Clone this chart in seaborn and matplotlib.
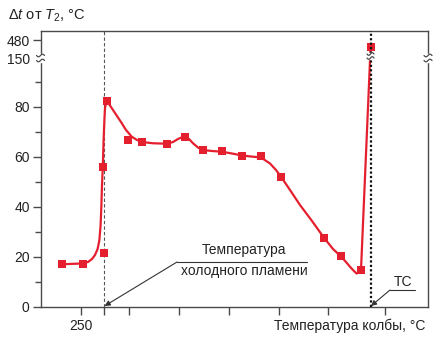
import numpy as np
import matplotlib
matplotlib.use("Agg")
import matplotlib.pyplot as plt
import seaborn as sns
import pandas as pd

# ---------------- data ----------------
pt_T = [240.5, 251.0, 261.7, 261.2, 262.9, 273.5, 280.4, 293.2, 301.9, 310.9,
        320.4, 330.7, 340.0, 350.0, 371.5, 379.9, 390.0, 394.8]
pt_dt = [17.1, 17.3, 21.7, 55.9, 82.4, 66.8, 66.0, 65.3, 68.1, 62.8,
         62.3, 60.4, 60.5, 52.1, 27.7, 20.3, 14.8, 350.0]

curve_T = [240.4, 250.5, 253.5, 255.5, 257.0, 258.3, 259.2, 259.8, 260.2, 260.5,
           260.9, 261.3, 261.7, 262.0, 262.7, 263.5, 264.5, 266.0, 268.0, 270.4,
           272.5, 275.4, 278.0, 280.5, 286.0, 293.0, 296.0, 298.5, 301.9, 304.0,
           306.0, 308.5, 310.9, 315.5, 320.4, 325.5, 330.5, 335.0, 340.0, 344.5,
           347.5, 350.0, 354.5, 359.5, 365.5, 371.5, 376.0, 379.9, 382.5, 384.5,
           386.0, 387.8, 389.0, 390.0, 394.8]
curve_dt = [17.1, 17.4, 18.0, 19.2, 20.8, 23.2, 26.8, 32.8, 40.8, 48.8,
            56.0, 66.8, 74.8, 79.6, 82.2, 81.8, 80.6, 78.8, 76.4, 73.5,
            70.8, 68.1, 66.8, 66.0, 65.5, 65.3, 66.0, 67.2, 68.4, 67.2,
            65.5, 63.8, 62.8, 62.4, 62.1, 61.4, 60.6, 60.2, 59.8, 57.4,
            54.8, 52.1, 46.8, 40.8, 34.4, 27.7, 23.2, 20.3, 18.0, 16.1,
            14.8, 13.4, 13.8, 14.8, 350.0]

cold_flame_T = 261.7      # dashed line
tc_T = 394.9              # dotted line

x_ticks = [250, 261.7, 274, 299, 324, 349, 373.5, 402]
x_ticklabels = ["250", "", "", "", "", "", "", ""]
y_ticks = [0, 20, 40, 60, 80, 150, 480]
y_ticklabels = ["0", "20", "40", "60", "80", "150", "480"]
y_minor = [10, 30, 50, 70, 90]

# broken y axis mapping
BRK_IN = [-1000.0, 90.0, 150.0, 480.0, 5000.0]
BRK_OUT = [-1000.0, 90.0, 99.6, 106.8, 106.8 + 4520 * (7.2 / 330)]

def fwd(v):
    return np.interp(v, BRK_IN, BRK_OUT)

def inv(v):
    return np.interp(v, BRK_OUT, BRK_IN)

# ---------------- style ----------------
sns.set_style("ticks")
plt.rcParams["font.family"] = ["Liberation Sans", "DejaVu Sans"]
plt.rcParams["mathtext.fontset"] = "custom"
plt.rcParams["mathtext.rm"] = "Liberation Sans"
plt.rcParams["mathtext.it"] = "Liberation Sans:italic"

RED = "#E5202E"
AX = "#4a4a4a"
W, H = 440, 339
fig = plt.figure(figsize=(W / 100, H / 100), dpi=100)
ax = fig.add_axes([40.5 / W, 1 - 307 / H, (428 - 40.5) / W, (307 - 31) / H])
ax.set_yscale("function", functions=(fwd, inv))

df_c = pd.DataFrame({"T": curve_T, "dt": curve_dt})
df_p = pd.DataFrame({"T": pt_T, "dt": pt_dt})

ax.axvline(cold_flame_T, color="#555555", lw=0.8, ls=(0, (3, 2)), zorder=1)

sns.lineplot(data=df_c, x="T", y="dt", sort=False, estimator=None, color=RED,
             lw=1.6, ax=ax, zorder=3)
sns.scatterplot(data=df_p, x="T", y="dt", marker="s", s=40, color=RED,
                edgecolor=RED, linewidth=0, ax=ax, zorder=4)

ax.axvline(tc_T, color="#111111", lw=1.6, ls=(0, (1, 1)), zorder=5)

ax.set_xlim(229.75, 423.5)
ax.set_ylim(0, 645)

ax.set_xticks(x_ticks)
ax.set_xticklabels(x_ticklabels)
ax.set_yticks(y_ticks)
ax.set_yticklabels(y_ticklabels)
ax.yaxis.set_minor_locator(matplotlib.ticker.FixedLocator(y_minor))
ax.yaxis.set_minor_formatter(matplotlib.ticker.NullFormatter())
ax.xaxis.set_minor_locator(matplotlib.ticker.NullLocator())
ax.set_xlabel("")
ax.set_ylabel("")

for s in ax.spines.values():
    s.set_color(AX)
    s.set_linewidth(1.0)
    s.set_visible(True)
ax.tick_params(axis="both", which="major", length=5.8, width=1.0, color=AX,
               labelsize=10, labelcolor="#222222")
ax.tick_params(axis="x", which="major", pad=3.2)
ax.tick_params(axis="y", which="major", pad=2.0)
ax.tick_params(axis="y", which="minor", length=4.3, width=1.0, color=AX)
# no tick mark at the break value
for t in ax.yaxis.get_major_ticks():
    if abs(t.get_loc() - 150) < 1e-6:
        t.tick1line.set_visible(False)

# ---------------- break marks ----------------
def px(x, y):
    return x / W, 1 - y / H

def break_mark(xc, yc, half=4.0, gap=2.5, color=AX, lw=0.9):
    fx0, fy0 = px(xc - half, yc + gap + 1.2)
    fx1, fy1 = px(xc + half, yc - gap - 1.2)
    fig.patches.append(plt.Rectangle((fx0, fy0), fx1 - fx0, fy1 - fy0,
                                     transform=fig.transFigure, color="white",
                                     zorder=10))
    tt = np.linspace(0, 1, 25)
    for dy in (-gap, gap):
        xs = xc - half + 2 * half * tt
        ys = yc + dy + 1.3 * np.sin(2 * np.pi * tt)
        fx = xs / W
        fy = 1 - ys / H
        fig.add_artist(matplotlib.lines.Line2D(fx, fy, transform=fig.transFigure,
                                               color=color, lw=lw, zorder=11))

break_mark(40.5, 58)
break_mark(428, 58)
break_mark(370.5, 56, half=3.5, gap=2.0)

# ---------------- annotations ----------------
ann_col = "#333333"
ax.plot([298, 363], [18.0, 18.0], color=ann_col, lw=0.8, zorder=6)
ax.annotate("", xy=(261.8, 0.4), xytext=(298, 18.0),
            arrowprops=dict(arrowstyle="-|>", color=ann_col, lw=0.8,
                            mutation_scale=8, shrinkA=0, shrinkB=0), zorder=6)
ax.text(331.3, 22.8, "Температура", ha="center", va="center", fontsize=10,
        color="#222222")
ax.text(331.5, 14.2, "холодного пламени", ha="center", va="center", fontsize=10,
        color="#222222")

ax.annotate("", xy=(395.0, 0.4), xytext=(404.5, 6.8),
            arrowprops=dict(arrowstyle="-|>", color=ann_col, lw=0.8,
                            mutation_scale=8, shrinkA=0, shrinkB=0), zorder=6)
ax.plot([404.5, 417], [6.8, 6.8], color=ann_col, lw=0.8, zorder=6)
ax.text(410.8, 10.0, "TC", ha="center", va="center", fontsize=10, color="#222222")

fig.text(8 / W, 1 - 20 / H, r"$\Delta t$ от $T_2$, °C", ha="left", va="baseline",
         fontsize=10.5, color="#222222")
fig.text(425 / W, 1 - 330 / H, "Температура колбы, °C", ha="right", va="baseline",
         fontsize=10, color="#222222")

fig.savefig("out.png", dpi=100)
